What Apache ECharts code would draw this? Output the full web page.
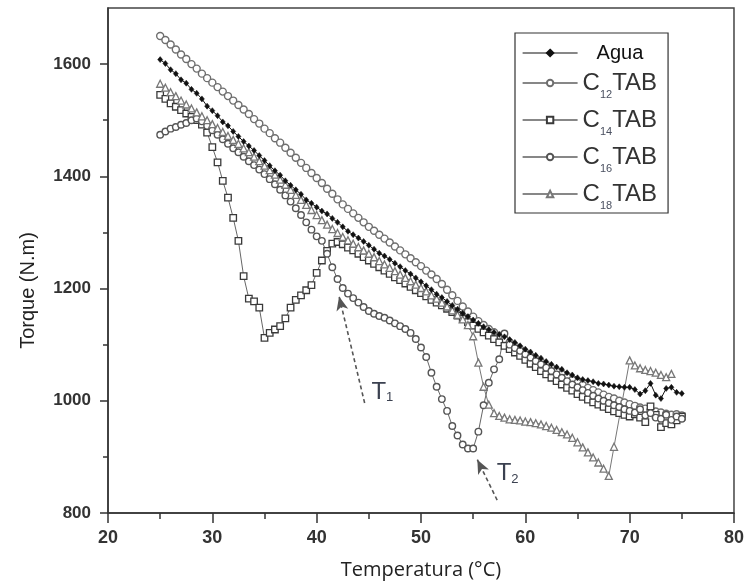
<!DOCTYPE html>
<html>
<head>
<meta charset="utf-8">
<script src="https://cdn.jsdelivr.net/npm/echarts@6/dist/echarts.min.js"></script>
<style>html,body{margin:0;padding:0;background:#fff}#c{width:747px;height:586px}</style>
</head>
<body>
<div id="c"></div>
<script>
const temps = [
  25,25.5,26,26.5,27,27.5,28,28.5,29,29.5,
  30,30.5,31,31.5,32,32.5,33,33.5,34,34.5,
  35,35.5,36,36.5,37,37.5,38,38.5,39,39.5,
  40,40.5,41,41.5,42,42.5,43,43.5,44,44.5,
  45,45.5,46,46.5,47,47.5,48,48.5,49,49.5,
  50,50.5,51,51.5,52,52.5,53,53.5,54,54.5,
  55,55.5,56,56.5,57,57.5,58,58.5,59,59.5,
  60,60.5,61,61.5,62,62.5,63,63.5,64,64.5,
  65,65.5,66,66.5,67,67.5,68,68.5,69,69.5,
  70,70.5,71,71.5,72,72.5,73,73.5,74,74.5,
  75
];
const agua = [
  1608,1601,1590,1583,1572,1566,1555,1548,1538,1525,
  1517,1508,1497,1490,1480,1471,1462,1454,1446,1437,
  1428,1419,1410,1402,1392,1384,1376,1368,1358,1352,
  1345,1338,1333,1325,1318,1310,1302,1296,1290,1284,
  1277,1270,1263,1258,1252,1245,1239,1232,1226,1219,
  1212,1205,1198,1190,1184,1177,1170,1163,1156,1150,
  1144,1138,1132,1127,1122,1118,1114,1109,1104,1098,
  1092,1087,1081,1076,1070,1065,1060,1056,1050,1046,
  1041,1038,1036,1034,1031,1030,1028,1026,1025,1024,
  1024,1020,1012,1018,1031,1010,1004,1022,1024,1015,
  1013
];
const c12 = [
  1650,1643,1635,1626,1617,1609,1600,1592,1583,1575,
  1567,1559,1551,1543,1535,1527,1519,1511,1502,1494,
  1485,1477,1468,1460,1451,1442,1433,1424,1415,1406,
  1397,1388,1378,1369,1359,1350,1342,1334,1326,1318,
  1310,1303,1296,1289,1282,1275,1268,1261,1254,1247,
  1240,1232,1225,1217,1208,1198,1188,1178,1168,1159,
  1150,1142,1135,1128,1122,1116,1110,1104,1098,1092,
  1086,1080,1075,1069,1063,1058,1052,1047,1042,1037,
  1032,1028,1023,1019,1015,1011,1007,1004,1000,997,
  994,991,988,986,983,981,979,977,975,976,
  974
];
const c14 = [
  1545,1538,1530,1524,1518,1512,1506,1500,1492,1478,
  1452,1425,1392,1362,1326,1285,1222,1182,1177,1166,
  1112,1121,1127,1133,1147,1166,1180,1188,1197,1206,
  1228,1250,1267,1280,1283,1279,1273,1268,1262,1256,
  1250,1244,1238,1232,1226,1220,1215,1209,1203,1197,
  1192,1186,1180,1175,1170,1164,1158,1152,1146,1140,
  1134,1128,1122,1116,1110,1104,1098,1092,1086,1080,
  1073,1066,1060,1053,1047,1041,1035,1029,1023,1018,
  1012,1007,1002,997,993,989,985,981,978,975,
  972,976,970,962,990,975,953,960,958,965,
  972
];
const c16 = [
  1474,1480,1485,1488,1492,1495,1500,1503,1498,1490,
  1482,1474,1466,1458,1450,1443,1435,1427,1420,1412,
  1404,1395,1386,1376,1366,1355,1343,1331,1318,1305,
  1293,1285,1262,1238,1217,1201,1191,1183,1175,1167,
  1160,1155,1151,1148,1143,1138,1133,1128,1121,1110,
  1095,1078,1050,1025,1003,982,955,938,922,915,
  915,945,992,1032,1056,1074,1120,1100,1094,1089,
  1083,1077,1071,1065,1059,1053,1047,1041,1035,1029,
  1024,1019,1014,1009,1004,1000,996,992,989,985,
  982,979,985,974,978,970,968,975,966,972,
  968
];
const c18 = [
  1565,1558,1550,1543,1535,1528,1521,1514,1507,1500,
  1493,1486,1479,1472,1465,1458,1450,1443,1435,1427,
  1419,1411,1403,1394,1385,1376,1367,1358,1349,1340,
  1331,1322,1314,1306,1299,1292,1286,1280,1274,1268,
  1262,1256,1249,1243,1237,1231,1225,1219,1213,1207,
  1201,1195,1188,1182,1175,1168,1161,1153,1145,1135,
  1115,1068,1025,993,978,973,970,967,966,965,
  963,962,960,958,955,952,948,944,940,934,
  926,917,908,899,890,879,866,918,null,null,
  1072,1063,1058,1055,1053,1050,1046,1042,1048,null,
  null
];
const seriesNames = ['Agua','C12TAB','C14TAB','C16TAB','C18TAB'];
const xTicks = [20,30,40,50,60,70,80];
const yTicks = [800,1000,1200,1400,1600];
const yMinorTicks = [900,1100,1300,1500];
const arrowT1 = [[44.6,996],[42.15,1186]];
const arrowT2 = [[57.3,823],[55.4,895]];
const labelT1 = [46.3,1015];
const labelT2 = [58.3,870];

const pairs = vals => temps.map((t,i) => [t, vals[i]]);

const chart = echarts.init(document.getElementById('c'), null, {renderer:'canvas'});

function mk(name, vals, symbol, size, border, fill, bw, lineColor) {
  return {
    name: name, type: 'line', data: pairs(vals),
    symbol: symbol, symbolSize: size, showSymbol: true, connectNulls: true,
    lineStyle: {color: lineColor, width: 1},
    itemStyle: {color: fill, borderColor: border, borderWidth: bw},
    emphasis: {disabled: true}, silent: true
  };
}

const option = {
  animation: false,
  backgroundColor: '#fff',
  grid: {left:108, right:12, top:8, bottom:73, show:true, borderColor:'#444', borderWidth:1.5},
  legend: {
    data: seriesNames.map(n => ({name: n, lineStyle: {color: '#111', width: 1.2}})),
    orient: 'vertical', left: 515, top: 33,
    padding: [10, 11, 2, 7],
    itemWidth: 55, itemHeight: 8, itemGap: 8,
    borderColor: '#333', borderWidth: 1.2, backgroundColor: '#fff',
    lineStyle: {color: '#111', width: 1.2},
    selectedMode: false,
    formatter: n => n === 'Agua' ? '{a|Agua}' : '{c|C}{s|' + n.slice(1,3) + '}{c|TAB}',
    textStyle: {
      color: '#222',
      rich: {
        a: {fontFamily:'Liberation Sans', fontSize:20, lineHeight:22, padding:[0,0,0,14], color:'#111'},
        c: {fontFamily:'Liberation Sans', fontSize:24, lineHeight:34, color:'#333'},
        s: {fontFamily:'Liberation Sans', fontSize:11, lineHeight:11, verticalAlign:'bottom', color:'#4a5060'}
      }
    }
  },
  xAxis: {
    type: 'value', min: 20, max: 80, interval: 10,
    name: 'Temperatura (°C)', nameLocation: 'middle', nameGap: 47,
    nameTextStyle: {fontFamily:'Open Sans', fontSize:20, color:'#222'},
    axisLine: {onZero:false, lineStyle:{color:'#333', width:1.5}},
    axisTick: {show:true, inside:false, length:10, lineStyle:{color:'#333', width:1.5}},
    minorTick: {show:true, splitNumber:2, length:6, lineStyle:{color:'#333', width:1.5}},
    splitLine: {show:false},
    axisLabel: {fontFamily:'Liberation Sans', fontWeight:'bold', fontSize:18, color:'#333', margin:16,
      customValues: xTicks, formatter: v => String(v)}
  },
  yAxis: [{
    type: 'value', min: 800, max: 1700, interval: 200,
    name: 'Torque (N.m)', nameLocation: 'middle', nameGap: 70,
    nameTextStyle: {fontFamily:'Liberation Sans', fontSize:20, color:'#222', padding:[0,60,0,0]},
    axisLine: {onZero:false, lineStyle:{color:'#333', width:1.5}},
    axisTick: {show:true, inside:false, length:8, lineStyle:{color:'#333', width:1.5}, customValues: yTicks},
    splitLine: {show:false},
    axisLabel: {fontFamily:'Liberation Sans', fontWeight:'bold', fontSize:17, color:'#333', margin:17,
      customValues: yTicks, formatter: v => String(v)}
  }, {
    type: 'value', min: 800, max: 1700, position: 'left',
    axisLine: {show:false},
    axisTick: {show:true, inside:false, length:5, lineStyle:{color:'#333', width:1.5}, customValues: yMinorTicks},
    axisLabel: {show:false},
    splitLine: {show:false}
  }],
  series: [
    mk('C12TAB', c12, 'circle', 7, '#6e6e6e', '#fff', 1.4, '#777'),
    mk('C14TAB', c14, 'rect', 6.5, '#3a3a3a', '#fff', 1.3, '#666'),
    mk('C16TAB', c16, 'circle', 6.5, '#555', '#fff', 1.4, '#666'),
    mk('C18TAB', c18, 'triangle', 7, '#777', '#fff', 1.3, '#777'),
    mk('Agua', agua, 'diamond', [5,6], '#111', '#111', 0.5, '#111'),
    {
      name: 'annot', type: 'line', data: [], silent: true,
      markLine: {
        silent: true, symbol: ['none','arrow'], symbolSize: [9,14], animation:false,
        lineStyle: {type:[4,3], color:'#555', width:1.6},
        label: {show:false},
        data: [
          [{coord: arrowT1[0]}, {coord: arrowT1[1]}],
          [{coord: arrowT2[0]}, {coord: arrowT2[1]}]
        ]
      },
      markPoint: {
        silent: true, symbol: 'circle', symbolSize: 0,
        label: {
          show: true, position: 'inside',
          formatter: p => '{t|T}{s|' + p.name + '}',
          rich: {
            t: {fontFamily:'Liberation Sans', fontSize:24, color:'#3b4150'},
            s: {fontFamily:'Liberation Sans', fontSize:13, lineHeight:13, verticalAlign:'bottom', color:'#3b4150'}
          }
        },
        data: [
          {name: '1', coord: labelT1},
          {name: '2', coord: labelT2}
        ]
      }
    }
  ]
};
chart.setOption(option);
</script>
</body>
</html>
